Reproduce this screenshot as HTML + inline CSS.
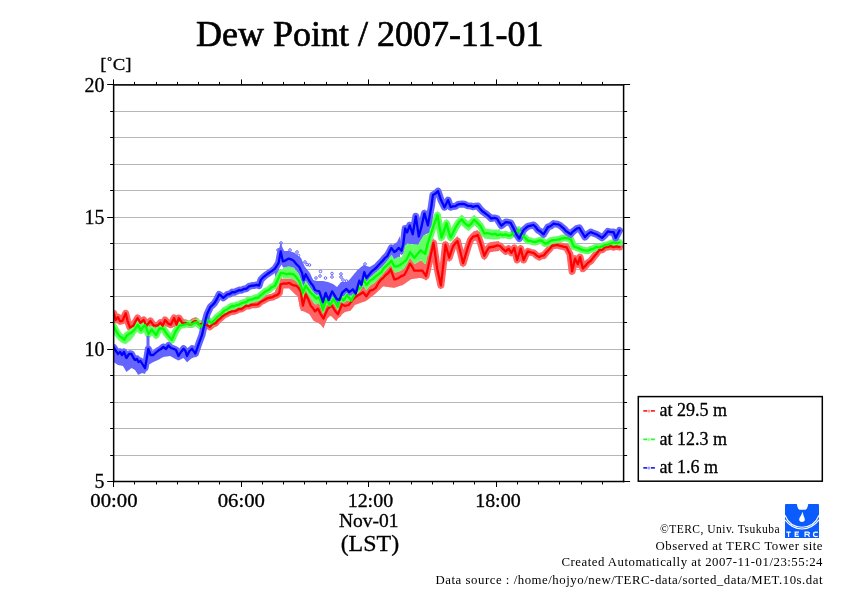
<!DOCTYPE html><html><head><meta charset="utf-8"><style>html,body{margin:0;padding:0;background:#fff;}svg{display:block;}text{font-family:"Liberation Serif",serif;fill:#000;}svg{will-change:transform;}</style></head><body>
<svg width="842" height="595" viewBox="0 0 842 595">
<rect width="842" height="595" fill="#fff"/>
<text x="196" y="46" font-size="36" textLength="347.5" lengthAdjust="spacingAndGlyphs" stroke="#000" stroke-width="0.65">Dew Point / 2007-11-01</text>
<path d="M113.7 111.50H623.6 M113.7 137.50H623.6 M113.7 164.50H623.6 M113.7 190.50H623.6 M113.7 217.50H623.6 M113.7 243.50H623.6 M113.7 269.50H623.6 M113.7 296.50H623.6 M113.7 322.50H623.6 M113.7 349.50H623.6 M113.7 375.50H623.6 M113.7 402.50H623.6 M113.7 428.50H623.6 M113.7 455.50H623.6" stroke="#b6b6b6" stroke-width="1" fill="none"/>
<clipPath id="pc"><rect x="113.4" y="84" width="510.4" height="397.5"/></clipPath>
<g clip-path="url(#pc)">
<polyline points="113.8,313.3 115.7,320.0 118.1,317.1 120.0,321.4 122.4,320.9 125.7,313.3 127.6,320.9 130.0,327.6 133.3,325.7 135.4,321.7 137.6,318.0 140.4,322.8 143.7,320.0 146.6,325.7 150.4,320.9 153.7,325.7 157.5,325.7 160.4,322.8 162.7,325.7 165.1,320.0 168.4,323.8 170.8,324.7 174.1,318.0 176.5,324.7 178.9,318.0 182.2,322.8 185.1,322.8 188.0,324.0 190.9,324.4 193.2,321.8 195.6,320.9 199.1,324.4 201.4,324.0 203.8,324.4 206.8,325.0 209.7,326.8 212.6,324.3 215.6,323.2 217.9,320.3 220.3,318.3 222.6,316.2 225.0,314.6 227.3,313.5 229.7,312.1 232.1,311.4 234.4,311.2 236.8,310.3 239.1,308.8 241.5,309.0 243.8,307.4 246.2,305.7 248.5,306.1 250.9,305.0 253.2,304.7 255.6,304.7 257.9,304.4 260.9,301.7 263.8,300.3 266.9,298.4 270.0,297.5 272.5,297.1 275.0,295.7 277.1,295.1 279.3,292.9 280.7,284.3 283.6,283.5 286.4,283.7 289.3,282.9 291.7,284.5 294.0,285.5 296.4,285.7 298.5,287.8 300.7,291.4 302.9,305.7 305.7,294.3 308.2,299.2 310.7,305.7 312.9,308.0 315.0,311.4 317.9,308.6 320.8,314.3 323.6,318.6 325.8,312.9 327.9,308.6 330.0,307.0 332.1,305.7 335.0,310.8 337.9,314.3 340.0,309.4 342.1,304.3 345.0,306.0 348.6,305.0 350.8,302.5 352.9,299.3 355.8,296.8 358.6,295.0 360.8,293.9 362.9,292.1 366.4,296.4 370.0,290.7 372.9,289.9 375.7,287.9 378.5,282.7 381.4,279.3 383.5,277.6 385.7,275.0 388.2,273.0 390.7,269.3 394.3,279.3 396.5,279.0 398.6,277.9 401.5,276.1 404.3,275.0 407.1,269.8 410.0,263.6 412.1,266.4 414.3,270.7 417.1,270.6 420.0,270.7 422.4,270.6 426.1,276.1 429.8,259.5 433.5,242.8 437.2,268.7 440.9,285.4 443.2,265.8 445.5,244.7 449.2,257.6 452.9,246.5 455.2,243.4 457.5,241.0 460.3,251.7 463.1,263.2 465.6,254.8 468.0,246.9 470.5,240.0 473.2,236.5 475.5,236.1 477.8,235.0 481.1,244.9 484.3,255.8 486.6,251.2 488.9,247.5 491.7,247.0 494.5,246.5 497.2,245.4 500.0,246.0 502.9,248.8 505.7,251.4 508.6,248.6 511.4,252.9 514.3,247.9 517.1,260.0 520.7,248.6 523.6,260.0 525.8,255.1 527.9,251.4 530.8,252.3 533.6,252.9 536.5,255.4 539.3,257.1 541.5,255.7 543.6,255.7 545.8,253.0 547.9,250.7 550.0,248.5 552.1,245.7 554.5,245.5 556.9,244.9 559.3,245.7 561.7,246.2 564.0,246.9 566.4,247.1 570.0,254.3 572.1,271.4 575.0,258.6 577.9,264.3 580.0,257.1 582.9,268.6 585.4,265.8 587.9,262.9 590.8,260.8 593.6,257.1 596.5,253.7 599.3,250.0 602.2,249.8 605.0,247.4 607.9,247.1 610.7,246.2 613.6,247.2 616.4,246.4 619.5,247.0" fill="none" stroke="#ff6464" stroke-width="7" stroke-linejoin="round" stroke-linecap="round"/>
<polyline points="113.8,326.6 116.7,332.3 119.5,336.1 122.4,338.0 124.3,339.9 127.1,335.2 129.5,333.6 131.9,332.3 134.7,329.5 138.0,324.7 140.9,330.4 143.1,326.9 145.2,325.2 148.5,334.2 151.8,329.5 153.9,332.4 156.1,335.2 159.4,328.5 163.2,328.5 167.0,334.2 169.4,336.9 171.8,339.9 175.6,331.4 179.4,325.7 181.8,325.1 184.1,324.7 186.9,323.9 189.8,323.8 192.1,324.4 194.4,322.7 196.8,322.1 199.2,324.7 201.5,326.8 203.8,322.9 206.2,319.7 208.8,321.0 211.5,323.2 214.2,320.5 216.8,317.4 219.7,315.1 222.6,312.6 225.0,310.2 227.3,309.2 229.7,307.4 232.1,306.0 234.4,306.3 236.8,305.0 239.1,304.8 241.5,303.3 243.8,302.5 246.2,302.2 248.5,299.9 250.9,299.7 253.2,299.1 255.6,297.7 257.9,297.9 260.2,295.7 262.6,293.8 265.6,291.2 268.6,290.0 271.8,287.2 275.0,285.7 277.9,279.5 280.7,272.9 283.5,273.1 286.4,274.3 288.8,273.6 291.2,273.8 293.6,274.3 296.5,277.6 299.3,281.4 302.9,292.9 305.7,285.7 308.2,289.2 310.7,292.9 313.5,295.2 316.4,298.6 319.3,297.0 322.9,310.0 326.4,298.6 330.0,305.7 333.6,298.6 335.8,303.1 337.9,307.0 340.0,296.4 343.6,300.7 347.1,295.0 349.2,297.8 351.4,300.7 353.5,296.4 355.7,292.1 357.9,289.8 360.0,287.9 363.6,279.3 366.4,285.0 370.0,280.7 372.9,279.1 375.7,276.4 378.5,274.4 381.4,272.1 383.5,268.6 385.7,266.4 388.5,263.9 391.4,260.7 394.3,266.4 397.1,266.5 400.0,265.0 402.9,262.9 405.7,260.7 407.9,257.1 410.0,252.1 412.1,254.7 414.3,257.9 417.9,253.6 420.5,250.2 422.9,252.2 425.2,253.9 427.4,244.5 429.9,236.8 432.4,229.4 434.9,222.2 437.5,215.3 439.5,226.9 441.5,237.5 444.1,230.5 446.6,223.3 448.6,231.2 450.6,237.5 453.1,232.5 455.6,227.4 458.6,222.6 461.7,219.3 464.7,223.3 466.6,224.5 468.6,226.2 471.4,223.6 474.2,219.7 477.4,222.8 480.6,226.2 484.3,233.6 487.1,233.0 489.8,233.7 492.6,234.5 495.1,233.7 497.5,235.3 500.0,234.3 502.9,235.1 505.7,234.3 507.9,235.5 510.0,235.7 512.0,234.5 514.0,232.9 516.3,231.9 518.6,230.0 522.1,235.7 525.0,237.6 527.9,240.7 530.3,240.8 532.6,241.7 535.0,242.1 537.4,241.4 539.7,240.3 542.1,240.7 545.0,243.6 547.9,243.0 550.7,240.7 553.6,240.1 556.4,239.8 559.3,239.3 562.1,238.3 565.0,237.9 567.9,238.2 570.7,239.3 573.6,246.4 576.5,247.3 579.3,248.6 582.2,249.9 585.0,250.4 587.9,250.7 590.8,249.4 593.6,248.6 596.4,247.0 599.3,247.7 602.1,246.4 605.0,245.1 607.8,244.7 610.7,243.6 613.6,242.4 616.6,243.2 619.5,242.5" fill="none" stroke="#64ff64" stroke-width="7" stroke-linejoin="round" stroke-linecap="round"/>
<polyline points="113.7,347.5 116.0,351.0 118.0,354.0 120.0,352.0 122.0,355.0 124.0,352.0 126.4,358.0 129.0,354.0 131.5,354.0 133.5,358.0 135.0,360.0 137.0,359.0 138.5,362.0 140.5,361.0 142.4,364.0 145.0,368.0 146.5,360.0 148.3,349.0 150.5,355.0 153.3,355.0 155.5,353.0 158.4,350.5 161.0,349.0 163.4,347.0 166.0,349.0 168.5,345.5 171.0,348.0 173.5,348.8 176.0,350.0 178.5,356.0 181.0,352.0 183.6,348.8 185.5,351.0 187.0,356.0 189.5,351.0 192.0,348.8 195.4,353.5 198.7,343.8 202.0,335.0 205.0,322.0 207.1,314.0 210.5,306.8 212.4,305.1 214.4,303.2 216.8,299.2 219.1,294.4 221.1,295.8 223.2,297.9 225.3,296.2 227.4,294.4 229.8,294.0 232.1,292.1 234.4,292.4 236.8,291.2 239.2,290.1 241.5,290.3 243.8,289.0 246.2,288.8 249.1,286.4 252.1,285.6 254.4,285.5 256.8,284.8 259.1,285.6 260.9,279.7 263.8,276.8 267.0,274.3 269.2,272.8 271.4,271.4 275.0,268.6 278.6,262.9 280.7,251.4 282.9,261.4 285.8,260.3 288.6,258.6 291.1,259.3 293.6,260.7 296.5,264.2 299.3,267.0 302.1,272.9 303.6,280.0 305.7,274.3 308.2,278.8 310.7,282.9 312.9,285.6 315.0,290.0 317.1,290.8 319.3,291.4 322.9,302.0 325.7,292.9 328.6,300.0 332.1,291.4 334.2,294.6 336.4,298.6 339.3,300.0 342.1,292.9 344.2,290.8 346.4,289.0 349.3,292.1 352.9,289.3 355.7,293.6 359.3,280.7 361.4,285.0 364.3,272.1 366.4,277.9 370.0,273.6 372.1,271.1 374.3,269.3 376.5,267.5 378.6,265.0 380.8,262.7 382.9,260.7 385.0,257.9 387.1,256.4 389.2,252.2 391.4,247.9 394.3,252.1 396.5,250.5 398.6,247.9 401.5,250.7 403.2,244.5 405.2,228.4 407.2,232.4 409.7,225.4 412.7,234.4 415.8,216.3 418.8,236.5 421.3,227.4 424.4,213.3 427.9,225.4 431.4,206.2 432.9,195.1 435.5,193.6 438.0,191.1 441.0,200.1 444.5,207.2 448.1,200.1 450.6,207.2 453.1,206.4 455.6,206.2 457.6,204.7 459.7,204.2 462.2,204.0 464.7,204.2 467.6,205.8 470.5,205.9 472.9,206.8 475.4,206.2 477.8,205.9 480.3,209.1 482.7,211.5 485.2,213.3 488.3,215.7 491.4,218.6 494.2,217.9 497.0,218.6 499.2,222.4 501.4,225.7 503.5,224.0 505.7,222.1 508.2,222.3 510.7,222.9 513.6,228.6 516.4,234.3 519.3,238.6 521.5,233.8 523.6,230.0 525.8,228.0 527.9,226.4 530.8,225.6 533.6,225.0 535.8,227.1 537.9,230.0 540.8,231.8 543.6,234.3 545.8,230.6 547.9,227.1 550.8,226.0 553.6,223.6 555.8,224.1 557.9,224.3 560.0,225.3 562.1,227.1 564.2,228.9 566.4,231.4 568.5,232.8 570.7,234.3 572.9,231.6 575.0,230.0 577.1,228.4 579.3,227.9 582.1,232.5 585.0,237.1 587.9,233.9 590.7,232.1 593.5,233.2 596.4,234.3 599.2,235.9 602.1,237.9 605.0,235.0 607.9,231.4 610.8,232.2 613.6,232.1 615.7,237.9 619.5,230.5" fill="none" stroke="#6464ff" stroke-width="7" stroke-linejoin="round" stroke-linecap="round"/>
<polygon points="275.0,290.7 275.5,290.0 276.0,289.3 276.5,288.5 277.0,287.8 277.5,287.1 278.0,286.4 278.5,285.6 279.0,284.9 279.5,283.6 280.0,281.5 280.5,279.4 281.0,278.6 281.5,278.6 282.0,278.7 282.5,278.7 283.0,278.7 283.5,278.7 284.0,278.7 284.5,278.8 285.0,278.8 285.5,278.8 286.0,278.8 286.5,278.8 287.0,278.8 287.5,278.7 288.0,278.7 288.5,278.7 289.0,278.6 289.5,278.6 290.0,278.7 290.5,278.8 291.0,278.9 291.5,279.0 292.0,279.1 292.5,279.2 293.0,279.3 293.5,279.4 294.0,279.8 294.5,280.2 295.0,280.6 295.5,281.0 296.0,281.4 296.5,281.9 297.0,282.5 297.5,283.2 298.0,283.8 298.5,284.4 299.0,285.1 299.5,285.9 300.0,287.0 300.5,287.6 301.0,289.9 301.5,292.5 302.0,294.9 302.5,297.4 303.0,299.0 303.5,297.3 304.0,295.6 304.5,294.0 305.0,292.3 305.5,290.7 306.0,290.6 306.5,291.5 307.0,292.4 307.5,293.3 308.0,294.3 308.5,295.2 309.0,296.1 309.5,297.1 310.0,298.0 310.5,298.9 311.0,299.6 311.5,300.2 312.0,300.8 312.5,301.4 313.0,302.0 313.5,302.6 314.0,303.1 314.5,303.7 315.0,304.3 315.5,304.3 316.0,304.3 316.5,304.2 317.0,303.9 317.5,303.5 318.0,303.2 318.5,303.5 319.0,303.8 319.5,304.6 320.0,305.9 320.5,307.2 321.0,308.6 321.5,309.9 322.0,311.3 322.5,312.6 323.0,313.6 323.5,313.2 324.0,312.0 324.5,310.6 325.0,309.3 325.5,307.9 326.0,306.5 326.5,305.3 327.0,305.2 327.5,305.1 328.0,305.0 328.5,304.7 329.0,304.3 329.5,304.0 330.0,303.6 330.5,303.3 331.0,303.0 331.5,302.6 332.0,302.3 332.5,302.8 333.0,303.4 333.5,303.3 334.0,303.9 334.5,304.8 335.0,305.7 335.5,306.5 336.0,307.4 336.5,308.2 337.0,309.1 337.5,310.0 338.0,310.3 338.5,308.4 339.0,306.6 339.5,304.7 340.0,302.9 340.5,302.6 341.0,302.3 341.5,302.0 342.0,301.0 342.5,301.0 343.0,301.3 343.5,301.6 344.0,301.9 344.5,302.2 345.0,302.2 345.5,301.7 346.0,301.3 346.5,300.8 347.0,300.3 347.5,300.4 348.0,300.7 348.5,300.9 349.0,301.0 349.5,300.3 350.0,299.6 350.5,299.0 351.0,298.3 351.5,297.7 352.0,297.0 352.5,296.3 353.0,295.7 353.5,295.3 354.0,295.0 354.5,294.6 355.0,294.2 355.5,293.8 356.0,293.5 356.5,293.1 357.0,292.7 357.5,292.3 358.0,292.0 358.5,291.6 359.0,291.2 359.5,290.9 360.0,290.6 360.5,290.2 361.0,289.4 361.5,288.7 362.0,287.9 362.5,287.1 363.0,286.5 363.5,286.2 364.0,286.8 364.5,287.6 365.0,288.4 365.5,289.2 366.0,290.0 366.5,290.6 367.0,289.9 367.5,289.2 368.0,288.5 368.5,287.8 369.0,287.1 369.5,286.4 370.0,285.7 370.5,285.4 371.0,285.1 371.5,284.8 372.0,284.5 372.5,284.1 373.0,283.8 373.5,283.5 374.0,283.2 374.5,282.9 375.0,282.6 375.5,282.3 376.0,281.8 376.5,281.2 377.0,280.7 377.5,280.1 378.0,279.5 378.5,279.0 379.0,278.4 379.5,277.8 380.0,277.3 380.5,276.7 381.0,276.2 381.5,275.6 382.0,275.0 382.5,274.4 383.0,273.8 383.5,273.3 384.0,272.7 384.5,272.1 385.0,271.5 385.5,270.9 386.0,270.4 386.5,269.8 387.0,269.3 387.5,268.8 388.0,268.2 388.5,267.7 389.0,267.2 389.5,266.6 390.0,266.1 390.5,265.6 391.0,265.6 391.5,266.2 392.0,267.4 392.5,268.6 393.0,269.8 393.5,271.0 394.0,272.1 394.5,272.8 395.0,272.7 395.5,272.5 396.0,272.4 396.5,272.2 397.0,272.1 397.5,271.9 398.0,271.8 398.5,271.7 399.0,271.5 399.5,271.3 400.0,271.1 400.5,270.8 401.0,270.5 401.5,270.1 402.0,269.8 402.5,269.5 403.0,269.2 403.5,268.9 404.0,268.6 404.5,268.1 405.0,267.4 405.5,266.7 406.0,265.9 406.5,264.9 407.0,263.9 407.5,262.9 408.0,261.9 408.5,260.9 409.0,259.9 409.5,258.9 410.0,257.9 410.5,258.6 411.0,259.4 411.5,260.1 412.0,260.9 412.5,261.6 413.0,262.3 413.5,263.1 414.0,263.9 414.5,264.2 415.0,263.9 415.5,263.6 416.0,263.3 416.5,263.0 417.0,262.7 417.5,262.4 418.0,262.1 418.5,261.8 419.0,261.4 419.5,261.1 420.0,260.8 420.5,260.4 421.0,260.6 421.5,260.8 422.0,261.0 422.5,261.3 423.0,261.8 423.5,262.4 424.0,263.0 424.5,263.5 425.0,264.1 425.5,263.9 426.0,263.2 426.5,261.3 427.0,259.1 427.0,280.0 426.5,279.9 426.0,279.7 425.5,279.6 425.0,279.4 424.5,279.2 424.0,279.1 423.5,278.9 423.0,278.8 422.5,278.6 422.0,278.5 421.5,278.3 421.0,278.2 420.5,278.0 420.0,277.9 419.5,278.0 419.0,278.1 418.5,278.1 418.0,278.2 417.5,278.3 417.0,278.4 416.5,278.4 416.0,278.5 415.5,278.6 415.0,278.7 414.5,278.8 414.0,278.8 413.5,278.9 413.0,279.0 412.5,279.1 412.0,279.1 411.5,279.2 411.0,279.3 410.5,279.7 410.0,280.0 409.5,280.4 409.0,280.7 408.5,281.1 408.0,281.4 407.5,281.8 407.0,282.1 406.5,282.5 406.0,282.9 405.5,283.2 405.0,283.6 404.5,283.9 404.0,284.3 403.5,284.6 403.0,285.0 402.5,285.2 402.0,285.3 401.5,285.5 401.0,285.6 400.5,285.8 400.0,286.0 399.5,286.1 399.0,286.3 398.5,286.4 398.0,286.6 397.5,286.8 397.0,286.9 396.5,287.1 396.0,287.3 395.5,287.4 395.0,287.6 394.5,287.7 394.0,287.9 393.5,287.8 393.0,287.8 392.5,287.7 392.0,287.6 391.5,287.6 391.0,287.5 390.5,287.4 390.0,287.4 389.5,287.3 389.0,287.2 388.5,287.1 388.0,287.1 387.5,287.0 387.0,286.9 386.5,286.9 386.0,286.8 385.5,286.7 385.0,286.7 384.5,286.6 384.0,286.5 383.5,286.5 383.0,286.4 382.5,286.9 382.0,287.4 381.5,287.9 381.0,288.4 380.5,288.9 380.0,289.4 379.5,289.9 379.0,290.3 378.5,290.8 378.0,291.3 377.5,291.8 377.0,292.3 376.5,292.8 376.0,293.3 375.5,293.8 375.0,294.1 374.5,294.5 374.0,294.9 373.5,295.3 373.0,295.7 372.5,296.0 372.0,296.4 371.5,296.8 371.0,297.2 370.5,297.6 370.0,297.9 369.5,298.3 369.0,298.7 368.5,299.1 368.0,299.5 367.5,299.9 367.0,300.2 366.5,300.6 366.0,301.0 365.5,301.2 365.0,301.4 364.5,301.5 364.0,301.7 363.5,301.9 363.0,302.1 362.5,302.3 362.0,302.4 361.5,302.6 361.0,302.8 360.5,303.0 360.0,303.2 359.5,303.3 359.0,303.5 358.5,303.7 358.0,303.9 357.5,304.1 357.0,304.2 356.5,304.4 356.0,304.6 355.5,304.8 355.0,305.0 354.5,305.5 354.0,306.2 353.5,306.9 353.0,307.5 352.5,308.2 352.0,308.8 351.5,309.5 351.0,310.2 350.5,310.7 350.0,310.8 349.5,311.0 349.0,311.1 348.5,311.2 348.0,311.3 347.5,311.5 347.0,311.6 346.5,311.7 346.0,311.8 345.5,312.0 345.0,312.1 344.5,312.4 344.0,312.8 343.5,313.2 343.0,313.5 342.5,313.9 342.0,314.3 341.5,314.7 341.0,315.0 340.5,315.4 340.0,315.8 339.5,316.2 339.0,316.7 338.5,317.6 338.0,318.5 337.5,319.3 337.0,320.2 336.5,321.1 336.0,321.1 335.5,320.6 335.0,320.1 334.5,319.6 334.0,319.1 333.5,318.6 333.0,318.1 332.5,317.6 332.0,317.1 331.5,316.6 331.0,316.1 330.5,315.8 330.0,316.2 329.5,316.6 329.0,317.0 328.5,317.4 328.0,317.8 327.5,318.2 327.0,318.8 326.5,320.2 326.0,321.6 325.5,322.9 325.0,324.3 324.5,325.7 324.0,327.1 323.5,328.5 323.0,327.8 322.5,327.1 322.0,326.4 321.5,325.7 321.0,325.0 320.5,324.7 320.0,324.3 319.5,324.0 319.0,323.6 318.5,323.3 318.0,322.9 317.5,322.7 317.0,322.4 316.5,322.2 316.0,321.9 315.5,321.7 315.0,321.4 314.5,321.2 314.0,320.9 313.5,320.7 313.0,319.9 312.5,319.2 312.0,318.4 311.5,317.6 311.0,316.8 310.5,316.1 310.0,315.3 309.5,314.5 309.0,314.1 308.5,313.8 308.0,313.6 307.5,313.3 307.0,313.1 306.5,312.8 306.0,312.6 305.5,312.3 305.0,312.1 304.5,311.8 304.0,311.6 303.5,311.4 303.0,311.3 302.5,311.1 302.0,311.0 301.5,310.9 301.0,310.8 300.5,309.7 300.0,307.3 299.5,304.8 299.0,302.4 298.5,299.9 298.0,297.5 297.5,296.6 297.0,296.1 296.5,295.6 296.0,295.1 295.5,294.7 295.0,294.2 294.5,293.7 294.0,293.2 293.5,292.7 293.0,292.2 292.5,291.7 292.0,291.2 291.5,290.7 291.0,290.3 290.5,289.8 290.0,289.3 289.5,288.8 289.0,288.6 288.5,288.6 288.0,288.6 287.5,288.6 287.0,288.6 286.5,288.6 286.0,288.6 285.5,288.6 285.0,288.6 284.5,288.6 284.0,288.6 283.5,288.6 283.0,288.6 282.5,288.6 282.0,288.6 281.5,288.6 281.0,288.6 280.5,289.0 280.0,292.1 279.5,295.2 279.0,296.6 278.5,296.9 278.0,297.2 277.5,297.6 277.0,297.9 276.5,298.2 276.0,298.5 275.5,298.9 275.0,299.2" fill="#ff6464"/>
<polygon points="420.0,265.7 420.5,265.7 421.0,265.7 421.5,265.6 422.0,265.6 422.5,265.7 423.0,266.5 423.5,267.2 424.0,268.0 424.5,268.7 425.0,269.5 425.5,270.2 426.0,271.0 426.5,269.3 427.0,267.1 427.5,264.8 428.0,262.6 428.5,260.3 429.0,258.1 429.5,255.8 430.0,253.6 430.5,251.3 431.0,249.1 431.5,246.8 432.0,244.6 432.5,242.3 433.0,240.1 433.5,237.8 434.0,241.3 434.5,244.8 435.0,248.3 435.5,251.8 436.0,255.3 436.5,258.8 437.0,262.3 437.5,265.1 438.0,267.3 438.5,269.6 439.0,271.8 439.5,274.1 440.0,276.3 440.5,278.6 441.0,279.5 441.5,275.1 442.0,270.7 442.5,266.2 443.0,261.8 443.5,257.4 444.0,253.0 444.5,248.5 445.0,244.1 445.5,239.7 446.0,241.4 446.5,243.2 447.0,244.9 447.5,246.7 448.0,248.4 448.5,250.2 449.0,251.9 449.5,251.7 450.0,250.2 450.5,248.7 451.0,247.2 451.5,245.7 452.0,244.2 452.5,242.7 453.0,241.4 453.5,240.8 454.0,240.2 454.5,239.6 455.0,239.0 455.5,238.4 456.0,237.8 456.5,237.2 457.0,236.6 457.5,236.0 458.0,238.0 458.5,240.0 459.0,241.9 459.5,243.9 460.0,245.9 460.5,247.9 461.0,249.9 461.5,251.9 462.0,253.8 462.5,255.8 463.0,257.8 463.5,256.9 464.0,255.4 464.5,253.8 465.0,252.2 465.5,250.7 466.0,249.1 466.5,247.5 467.0,246.0 467.5,244.4 468.0,242.8 468.5,241.3 469.0,239.7 469.5,238.1 470.0,236.6 470.5,235.0 471.0,234.4 471.5,233.7 472.0,233.1 472.5,232.4 473.0,231.8 473.5,231.4 474.0,231.2 474.5,231.1 475.0,230.9 475.5,230.8 476.0,230.6 476.5,230.4 477.0,230.3 477.5,230.1 478.0,230.6 478.5,232.2 479.0,233.8 479.5,235.4 480.0,237.0 480.5,238.6 481.0,240.2 481.5,241.8 482.0,243.4 482.5,245.0 483.0,246.6 483.5,248.2 484.0,249.8 484.5,250.4 485.0,249.5 485.5,248.6 486.0,247.7 486.5,246.8 487.0,245.9 487.5,245.0 488.0,244.1 488.5,243.2 489.0,242.5 489.5,242.4 490.0,242.3 490.5,242.2 491.0,242.1 491.5,242.0 492.0,241.9 492.5,241.9 493.0,241.8 493.5,241.7 494.0,241.6 494.5,241.5 495.0,241.5 495.5,241.4 496.0,241.4 496.5,241.3 497.0,241.3 497.5,241.2 498.0,241.2 498.5,241.1 499.0,241.1 499.0,251.1 498.5,251.1 498.0,251.2 497.5,251.2 497.0,251.3 496.5,251.3 496.0,251.4 495.5,251.4 495.0,251.5 494.5,251.5 494.0,251.6 493.5,251.7 493.0,251.8 492.5,251.9 492.0,251.9 491.5,252.0 491.0,252.1 490.5,252.2 490.0,252.3 489.5,252.4 489.0,252.5 488.5,253.2 488.0,254.1 487.5,255.0 487.0,255.9 486.5,256.8 486.0,257.7 485.5,258.6 485.0,259.5 484.5,260.4 484.0,259.8 483.5,258.2 483.0,256.6 482.5,255.0 482.0,253.4 481.5,251.8 481.0,250.2 480.5,248.6 480.0,247.0 479.5,245.4 479.0,243.8 478.5,242.2 478.0,240.6 477.5,240.1 477.0,240.3 476.5,240.4 476.0,240.6 475.5,240.8 475.0,240.9 474.5,241.1 474.0,241.2 473.5,241.4 473.0,241.8 472.5,242.4 472.0,243.1 471.5,243.7 471.0,244.4 470.5,245.0 470.0,246.6 469.5,248.1 469.0,249.7 468.5,251.3 468.0,252.8 467.5,254.4 467.0,256.0 466.5,257.5 466.0,259.1 465.5,260.7 465.0,262.2 464.5,263.8 464.0,265.4 463.5,266.9 463.0,267.8 462.5,265.8 462.0,263.8 461.5,261.9 461.0,259.9 460.5,257.9 460.0,255.9 459.5,253.9 459.0,251.9 458.5,250.0 458.0,248.0 457.5,246.0 457.0,246.6 456.5,247.2 456.0,247.8 455.5,248.4 455.0,249.0 454.5,249.6 454.0,250.2 453.5,250.8 453.0,251.4 452.5,252.7 452.0,254.2 451.5,255.7 451.0,257.2 450.5,258.7 450.0,260.2 449.5,261.7 449.0,261.9 448.5,260.2 448.0,258.4 447.5,256.7 447.0,254.9 446.5,253.2 446.0,251.4 445.5,249.7 445.0,254.1 444.5,258.5 444.0,263.0 443.5,267.4 443.0,271.8 442.5,276.2 442.0,280.7 441.5,285.1 441.0,289.5 440.5,288.6 440.0,286.3 439.5,284.1 439.0,281.8 438.5,279.6 438.0,277.3 437.5,275.1 437.0,272.3 436.5,268.8 436.0,265.3 435.5,261.8 435.0,258.3 434.5,254.8 434.0,251.3 433.5,247.8 433.0,250.1 432.5,252.3 432.0,254.6 431.5,256.8 431.0,259.1 430.5,261.3 430.0,263.6 429.5,265.8 429.0,268.1 428.5,270.3 428.0,272.6 427.5,274.8 427.0,277.1 426.5,279.3 426.0,281.0 425.5,280.2 425.0,279.5 424.5,278.7 424.0,278.0 423.5,277.2 423.0,276.5 422.5,275.7 422.0,275.6 421.5,275.6 421.0,275.7 420.5,275.7 420.0,275.7" fill="#ff6464"/>
<polygon points="118.0,330.6 118.5,331.2 119.0,331.9 119.5,332.6 120.0,332.9 120.5,333.3 121.0,333.6 121.5,333.9 122.0,334.2 122.5,334.6 123.0,335.1 123.5,335.6 124.0,336.1 124.5,336.1 125.0,335.2 125.5,334.4 126.0,333.5 126.5,332.7 127.0,331.9 127.5,331.5 128.0,331.2 128.5,330.9 129.0,330.6 129.5,330.2 130.0,329.9 130.5,329.6 131.0,329.3 131.5,329.0 132.0,328.7 132.5,328.2 133.0,327.7 133.5,327.2 134.0,326.7 134.5,326.2 135.0,325.6 135.0,335.0 134.5,335.6 134.0,336.2 133.5,336.9 133.0,337.5 132.5,338.1 132.0,338.8 131.5,339.4 131.0,340.0 130.5,340.4 130.0,340.8 129.5,341.2 129.0,341.6 128.5,342.0 128.0,342.4 127.5,342.8 127.0,343.2 126.5,343.6 126.0,344.0 125.5,343.9 125.0,343.8 124.5,343.6 124.0,343.5 123.5,343.4 123.0,343.2 122.5,343.1 122.0,343.0 121.5,342.6 121.0,342.2 120.5,341.9 120.0,341.5 119.5,341.1 119.0,340.8 118.5,340.4 118.0,340.0" fill="#64ff64"/>
<polygon points="420.0,245.9 420.5,245.2 421.0,245.6 421.5,246.0 422.0,246.4 422.5,246.8 423.0,247.2 423.5,247.6 424.0,248.0 424.5,248.3 425.0,248.7 425.5,247.6 426.0,245.5 426.5,243.3 427.0,241.2 427.5,239.2 428.0,237.7 428.5,236.2 429.0,234.7 429.5,233.2 430.0,231.6 430.5,230.1 431.0,228.6 431.5,227.1 432.0,225.6 432.5,224.1 433.0,222.7 433.5,221.4 434.0,220.0 434.5,218.6 435.0,217.2 435.5,215.8 436.0,214.4 436.5,213.1 437.0,211.7 437.5,210.3 438.0,213.1 438.5,215.9 439.0,218.6 439.5,221.4 440.0,224.2 440.5,226.9 441.0,229.7 441.5,232.5 442.0,231.1 442.5,229.7 443.0,228.3 443.5,226.9 444.0,225.5 444.5,224.1 445.0,222.8 445.5,221.4 446.0,220.0 446.5,218.6 447.0,219.7 447.5,221.5 448.0,223.3 448.5,225.0 449.0,226.8 449.5,228.6 450.0,230.4 450.5,232.1 451.0,231.7 451.5,230.7 452.0,229.7 452.5,228.7 453.0,227.7 453.5,226.6 454.0,225.6 454.5,224.6 455.0,223.6 455.5,222.6 456.0,221.9 456.5,221.2 457.0,220.5 457.5,219.9 458.0,219.2 458.5,218.5 459.0,217.9 459.5,217.2 460.0,216.6 460.5,215.9 461.0,215.2 461.5,214.6 462.0,214.7 462.5,215.4 463.0,216.0 463.5,216.7 464.0,217.4 464.5,218.0 465.0,218.5 465.5,218.9 466.0,219.3 466.5,219.6 467.0,220.0 467.5,220.4 468.0,220.8 468.5,221.1 469.0,220.7 469.5,220.2 470.0,219.6 470.5,219.0 471.0,218.4 471.5,217.8 472.0,217.3 472.5,216.7 473.0,216.1 473.5,215.5 474.0,214.9 474.5,215.0 475.0,215.5 475.5,216.0 476.0,216.5 476.5,217.0 477.0,217.5 477.5,218.1 478.0,218.6 478.5,219.1 479.0,219.6 479.5,220.1 480.0,220.6 480.5,221.1 481.0,222.0 481.5,223.0 482.0,224.0 482.5,225.0 483.0,226.0 483.5,227.0 484.0,228.0 484.5,228.6 485.0,228.7 485.5,228.7 486.0,228.8 486.5,228.8 487.0,228.9 487.5,228.9 488.0,229.0 488.5,229.1 489.0,229.1 489.5,229.2 490.0,229.2 490.5,229.3 491.0,229.3 491.5,229.4 492.0,229.4 492.5,229.5 493.0,229.5 493.5,229.5 494.0,229.5 494.5,229.4 495.0,229.4 495.5,229.4 496.0,229.4 496.5,229.4 497.0,229.4 497.5,229.4 498.0,229.4 498.5,229.3 499.0,229.3 499.5,229.3 500.0,229.3 500.0,239.3 499.5,239.3 499.0,239.3 498.5,239.3 498.0,239.4 497.5,239.4 497.0,239.4 496.5,239.4 496.0,239.4 495.5,239.4 495.0,239.4 494.5,239.4 494.0,239.5 493.5,239.5 493.0,239.5 492.5,239.5 492.0,239.4 491.5,239.4 491.0,239.3 490.5,239.3 490.0,239.2 489.5,239.2 489.0,239.1 488.5,239.1 488.0,239.0 487.5,238.9 487.0,238.9 486.5,238.8 486.0,238.8 485.5,238.7 485.0,238.7 484.5,238.6 484.0,238.0 483.5,237.0 483.0,236.0 482.5,235.0 482.0,234.0 481.5,233.0 481.0,232.0 480.5,231.1 480.0,230.6 479.5,230.1 479.0,229.6 478.5,229.1 478.0,228.6 477.5,228.1 477.0,227.5 476.5,227.0 476.0,226.5 475.5,226.0 475.0,225.5 474.5,225.0 474.0,224.9 473.5,225.5 473.0,226.1 472.5,226.7 472.0,227.3 471.5,227.8 471.0,228.4 470.5,229.0 470.0,229.6 469.5,230.2 469.0,230.7 468.5,231.1 468.0,230.8 467.5,230.4 467.0,230.0 466.5,229.6 466.0,229.3 465.5,228.9 465.0,228.5 464.5,228.0 464.0,227.4 463.5,226.7 463.0,226.0 462.5,225.4 462.0,224.7 461.5,224.6 461.0,225.2 460.5,225.9 460.0,226.6 459.5,227.2 459.0,227.9 458.5,228.5 458.0,229.2 457.5,229.9 457.0,230.5 456.5,231.2 456.0,231.9 455.5,232.6 455.0,233.6 454.5,234.6 454.0,235.6 453.5,236.6 453.0,237.7 452.5,238.7 452.0,239.7 451.5,240.7 451.0,241.7 450.5,242.1 450.0,240.4 449.5,238.6 449.0,236.8 448.5,235.0 448.0,233.3 447.5,231.5 447.0,229.7 446.5,228.6 446.0,230.0 445.5,231.4 445.0,232.8 444.5,234.1 444.0,235.5 443.5,236.9 443.0,238.3 442.5,239.7 442.0,241.1 441.5,242.5 441.0,239.7 440.5,236.9 440.0,234.2 439.5,231.4 439.0,228.6 438.5,225.9 438.0,223.1 437.5,220.3 437.0,221.7 436.5,223.1 436.0,224.4 435.5,225.8 435.0,227.2 434.5,228.6 434.0,230.0 433.5,231.4 433.0,232.7 432.5,234.1 432.0,235.6 431.5,237.1 431.0,238.6 430.5,240.1 430.0,241.6 429.5,243.2 429.0,244.7 428.5,246.2 428.0,247.7 427.5,249.2 427.0,251.2 426.5,253.3 426.0,255.5 425.5,257.6 425.0,258.7 424.5,258.3 424.0,258.0 423.5,257.6 423.0,257.2 422.5,256.8 422.0,256.4 421.5,256.0 421.0,255.6 420.5,255.2 420.0,255.9" fill="#64ff64"/>
<polygon points="283.0,267.4 283.5,267.3 284.0,267.3 284.5,267.2 285.0,267.2 285.5,267.1 286.0,267.0 286.5,267.0 287.0,266.8 287.5,266.7 288.0,266.6 288.5,266.5 289.0,266.5 289.5,266.6 290.0,266.7 290.5,266.8 291.0,267.0 291.5,267.1 292.0,267.2 292.5,267.3 293.0,267.4 293.5,267.5 294.0,268.0 294.5,268.6 295.0,269.1 295.5,269.7 296.0,270.3 296.5,270.9 297.0,271.5 297.5,272.1 298.0,272.7 298.5,273.3 299.0,273.8 299.5,274.7 300.0,276.1 300.5,277.4 301.0,278.7 301.5,280.0 302.0,281.4 302.5,283.2 303.0,284.9 303.5,285.4 304.0,284.5 304.5,283.2 305.0,281.8 305.5,280.5 306.0,280.5 306.5,281.3 307.0,282.1 307.5,282.8 308.0,283.6 308.5,284.4 309.0,285.2 309.5,286.0 310.0,286.8 310.5,287.6 311.0,288.3 311.5,289.0 312.0,289.6 312.5,290.3 313.0,290.9 313.5,291.6 314.0,292.3 314.5,292.9 315.0,293.6 315.5,293.9 316.0,294.3 316.5,294.5 317.0,294.5 317.5,294.4 318.0,294.2 318.5,293.9 319.0,293.7 319.5,294.2 320.0,296.0 320.5,297.8 321.0,299.6 321.5,301.4 322.0,303.1 322.5,304.7 323.0,305.7 323.5,304.0 324.0,302.4 324.5,300.8 325.0,299.2 325.5,297.5 326.0,296.4 326.5,295.3 327.0,296.3 327.5,297.3 328.0,298.3 328.5,299.2 329.0,300.2 329.5,301.2 330.0,301.1 330.5,300.0 331.0,298.9 331.5,297.8 332.0,296.7 332.5,296.4 333.0,296.3 333.5,295.3 334.0,295.9 334.5,296.9 335.0,297.8 335.5,298.8 336.0,299.8 336.5,300.8 337.0,301.7 337.5,302.7 338.0,302.9 338.5,300.5 339.0,297.9 339.5,295.4 340.0,292.9 340.5,293.5 341.0,294.1 341.5,294.7 342.0,295.3 342.5,295.9 343.0,296.0 343.5,296.1 344.0,295.6 344.5,295.0 345.0,294.3 345.5,293.7 346.0,293.1 346.5,292.5 347.0,291.7 347.5,292.0 348.0,292.7 348.5,293.4 349.0,294.0 349.5,294.7 350.0,295.2 350.5,295.3 351.0,295.5 351.5,295.4 352.0,294.8 352.5,294.1 353.0,293.5 353.5,293.0 354.0,292.0 354.5,291.0 355.0,290.0 355.5,289.0 356.0,288.3 356.5,287.8 357.0,287.3 357.5,286.8 358.0,286.4 358.5,285.9 359.0,285.3 359.5,284.7 360.0,284.4 360.5,283.2 361.0,282.0 361.5,280.8 362.0,279.6 362.5,278.4 363.0,277.2 363.5,276.0 364.0,276.6 364.5,276.9 365.0,278.1 365.5,279.3 366.0,280.5 366.5,281.3 367.0,280.7 367.5,280.1 368.0,279.5 368.5,278.9 369.0,278.3 369.5,277.7 370.0,277.1 370.5,276.7 371.0,276.3 371.5,275.8 372.0,275.4 372.5,275.0 373.0,274.5 373.5,274.1 374.0,273.6 374.5,273.2 375.0,272.8 375.5,272.3 376.0,271.9 376.5,271.4 377.0,271.0 377.5,270.6 378.0,270.1 378.5,269.7 379.0,269.3 379.5,268.8 380.0,268.4 380.5,267.9 381.0,267.5 381.5,267.0 382.0,266.5 382.5,265.9 383.0,265.3 383.5,264.7 384.0,264.1 384.5,263.5 385.0,262.9 385.5,262.4 386.0,261.8 386.5,261.3 387.0,260.8 387.5,260.1 388.0,259.4 388.5,258.6 389.0,257.9 389.5,257.1 390.0,256.4 390.5,255.6 391.0,254.9 391.5,254.5 392.0,255.3 392.5,256.2 393.0,257.0 393.5,257.9 394.0,258.7 394.5,259.1 395.0,258.8 395.5,258.5 396.0,258.2 396.5,257.9 397.0,257.6 397.5,257.3 398.0,257.0 398.5,256.7 399.0,256.8 399.5,256.9 400.0,257.1 400.5,257.2 401.0,257.2 401.5,257.3 402.0,256.2 402.5,255.1 403.0,254.0 403.5,252.2 404.0,250.0 404.5,247.8 405.0,245.6 405.5,244.9 406.0,245.1 406.5,245.1 407.0,245.1 407.5,244.3 408.0,243.1 408.5,241.9 409.0,240.7 409.5,239.5 410.0,239.2 410.5,240.3 411.0,241.4 411.5,242.5 412.0,243.5 412.5,244.6 413.0,244.4 413.5,243.3 414.0,242.2 414.5,240.8 415.0,239.0 415.5,237.3 416.0,236.8 416.5,238.1 417.0,239.5 417.5,240.9 418.0,242.3 418.5,243.6 419.0,244.0 419.5,242.7 420.0,241.5 420.5,240.3 421.0,239.5 421.5,238.7 422.0,237.8 422.5,236.9 423.0,235.9 423.5,235.0 424.0,234.0 424.5,233.5 425.0,234.6 425.5,234.9 426.0,234.7 426.5,234.5 427.0,234.2 427.0,259.1 426.5,261.3 426.0,263.2 425.5,263.9 425.0,264.1 424.5,263.5 424.0,263.0 423.5,262.4 423.0,261.8 422.5,261.3 422.0,261.0 421.5,260.8 421.0,260.6 420.5,260.4 420.0,260.8 419.5,261.1 419.0,261.4 418.5,261.8 418.0,262.1 417.5,262.4 417.0,262.7 416.5,263.0 416.0,263.3 415.5,263.6 415.0,263.9 414.5,264.2 414.0,263.9 413.5,263.1 413.0,262.3 412.5,261.6 412.0,260.9 411.5,260.1 411.0,259.4 410.5,258.6 410.0,257.9 409.5,258.9 409.0,259.9 408.5,260.9 408.0,261.9 407.5,262.9 407.0,263.9 406.5,264.9 406.0,265.9 405.5,266.7 405.0,267.4 404.5,268.1 404.0,268.6 403.5,268.9 403.0,269.2 402.5,269.5 402.0,269.8 401.5,270.1 401.0,270.5 400.5,270.8 400.0,271.1 399.5,271.3 399.0,271.5 398.5,271.7 398.0,271.8 397.5,271.9 397.0,272.1 396.5,272.2 396.0,272.4 395.5,272.5 395.0,272.7 394.5,272.8 394.0,272.1 393.5,271.0 393.0,269.8 392.5,268.6 392.0,267.4 391.5,266.2 391.0,265.6 390.5,265.6 390.0,266.1 389.5,266.6 389.0,267.2 388.5,267.7 388.0,268.2 387.5,268.8 387.0,269.3 386.5,269.8 386.0,270.4 385.5,270.9 385.0,271.5 384.5,272.1 384.0,272.7 383.5,273.3 383.0,273.8 382.5,274.4 382.0,275.0 381.5,275.6 381.0,276.2 380.5,276.7 380.0,277.3 379.5,277.8 379.0,278.4 378.5,279.0 378.0,279.5 377.5,280.1 377.0,280.7 376.5,281.2 376.0,281.8 375.5,282.3 375.0,282.6 374.5,282.9 374.0,283.2 373.5,283.5 373.0,283.8 372.5,284.1 372.0,284.5 371.5,284.8 371.0,285.1 370.5,285.4 370.0,285.7 369.5,286.4 369.0,287.1 368.5,287.8 368.0,288.5 367.5,289.2 367.0,289.9 366.5,290.6 366.0,290.0 365.5,289.2 365.0,288.4 364.5,287.6 364.0,286.8 363.5,286.2 363.0,286.5 362.5,287.1 362.0,287.9 361.5,288.7 361.0,289.4 360.5,290.2 360.0,291.4 359.5,291.9 359.0,292.4 358.5,292.9 358.0,293.4 357.5,293.8 357.0,294.3 356.5,294.8 356.0,295.3 355.5,296.0 355.0,297.0 354.5,298.0 354.0,299.0 353.5,300.0 353.0,301.0 352.5,302.0 352.0,303.0 351.5,304.0 351.0,303.7 350.5,303.0 350.0,302.3 349.5,301.7 349.0,301.0 348.5,300.9 348.0,300.7 347.5,300.4 347.0,300.3 346.5,300.8 346.0,301.3 345.5,301.7 345.0,302.2 344.5,302.7 344.0,303.5 343.5,304.1 343.0,303.5 342.5,302.9 342.0,302.3 341.5,302.0 341.0,302.3 340.5,302.6 340.0,302.9 339.5,304.7 339.0,306.6 338.5,308.4 338.0,310.3 337.5,310.0 337.0,309.1 336.5,308.2 336.0,307.4 335.5,306.5 335.0,305.7 334.5,304.8 334.0,303.9 333.5,303.3 333.0,303.4 332.5,304.3 332.0,305.3 331.5,306.2 331.0,307.2 330.5,308.2 330.0,309.2 329.5,308.2 329.0,307.2 328.5,306.2 328.0,305.3 327.5,305.1 327.0,305.2 326.5,305.3 326.0,306.5 325.5,307.9 325.0,309.3 324.5,310.6 324.0,312.0 323.5,313.2 323.0,313.6 322.5,312.6 322.0,311.3 321.5,309.9 321.0,308.6 320.5,307.2 320.0,305.9 319.5,304.6 319.0,303.8 318.5,303.5 318.0,303.2 317.5,303.5 317.0,303.9 316.5,304.2 316.0,304.3 315.5,304.3 315.0,304.3 314.5,303.7 314.0,303.1 313.5,302.6 313.0,302.0 312.5,301.4 312.0,300.8 311.5,300.2 311.0,299.6 310.5,298.9 310.0,298.0 309.5,297.1 309.0,296.1 308.5,295.2 308.0,294.3 307.5,293.3 307.0,292.4 306.5,291.5 306.0,290.6 305.5,290.7 305.0,292.3 304.5,294.0 304.0,295.6 303.5,297.3 303.0,299.0 302.5,297.4 302.0,294.9 301.5,292.5 301.0,290.3 300.5,288.7 300.0,287.1 299.5,285.9 299.0,285.1 298.5,284.4 298.0,283.8 297.5,283.2 297.0,282.5 296.5,281.9 296.0,281.4 295.5,281.0 295.0,280.6 294.5,280.2 294.0,279.8 293.5,279.4 293.0,279.3 292.5,279.2 292.0,279.1 291.5,279.0 291.0,278.9 290.5,278.8 290.0,278.7 289.5,278.6 289.0,278.6 288.5,278.7 288.0,278.7 287.5,278.7 287.0,278.8 286.5,278.8 286.0,278.8 285.5,278.8 285.0,278.8 284.5,278.8 284.0,278.7 283.5,278.7 283.0,278.7" fill="#64ff64"/>
<polygon points="113.5,344.0 114.0,344.5 114.5,345.2 115.0,346.0 115.5,346.7 116.0,347.5 116.5,348.2 117.0,349.0 117.5,349.8 118.0,350.5 118.5,350.0 119.0,349.5 119.5,349.0 120.0,348.5 120.5,349.2 121.0,350.0 121.5,350.8 122.0,351.5 122.5,350.8 123.0,350.0 123.5,349.2 124.0,348.5 124.5,349.8 125.0,351.0 125.5,352.2 126.0,353.5 126.5,354.3 127.0,353.6 127.5,352.8 128.0,352.0 128.5,351.3 129.0,350.5 129.5,350.5 130.0,350.5 130.5,350.5 131.0,350.5 131.5,350.5 132.0,351.5 132.5,352.5 133.0,353.5 133.5,354.5 134.0,355.2 134.5,355.8 135.0,356.5 135.5,356.2 136.0,356.0 136.5,355.8 137.0,355.5 137.5,356.5 138.0,357.5 138.5,358.5 139.0,358.2 139.5,358.0 140.0,357.8 140.5,357.5 141.0,358.3 141.5,359.1 142.0,359.9 142.5,360.7 143.0,361.4 143.5,362.2 144.0,363.0 144.5,363.7 145.0,364.5 145.5,361.8 146.0,359.2 146.5,356.5 147.0,353.4 147.5,350.4 148.0,347.3 148.5,346.0 149.0,347.4 149.5,348.8 150.0,350.1 150.5,351.5 151.0,351.5 151.5,351.5 152.0,351.5 152.5,351.5 153.0,351.5 153.5,351.3 154.0,350.9 154.5,350.4 155.0,350.0 155.5,349.5 156.0,349.1 156.5,348.6 157.0,348.2 157.5,347.8 158.0,347.3 158.5,346.9 159.0,346.7 159.5,346.4 160.0,346.1 160.5,345.8 161.0,345.5 161.5,345.1 162.0,344.7 162.5,344.2 163.0,343.8 163.5,343.6 164.0,344.0 164.5,344.3 165.0,344.7 165.5,345.1 166.0,345.5 166.5,344.8 167.0,344.1 167.5,343.4 168.0,342.7 168.5,342.0 169.0,342.5 169.5,343.0 170.0,343.5 170.5,344.0 171.0,344.5 171.5,344.7 172.0,344.8 172.5,345.0 173.0,345.1 173.5,345.3 174.0,345.5 174.5,345.8 175.0,346.0 175.5,346.3 176.0,346.5 176.5,347.7 177.0,348.9 177.5,350.1 178.0,351.3 178.5,352.5 179.0,351.7 179.5,350.9 180.0,350.1 180.5,349.3 181.0,348.5 181.5,347.9 182.0,347.3 182.5,346.7 183.0,346.0 183.5,345.4 184.0,345.8 184.5,346.3 185.0,346.9 185.5,347.5 186.0,349.2 186.5,350.8 187.0,352.5 187.5,351.5 188.0,350.5 188.5,349.5 189.0,348.5 189.5,347.5 190.0,347.1 190.5,346.6 191.0,346.2 191.5,345.7 192.0,345.3 192.5,346.0 193.0,346.7 193.5,347.4 194.0,348.1 194.5,348.8 195.0,349.4 195.5,349.7 196.0,348.2 196.5,346.8 197.0,345.3 197.5,343.8 198.0,342.4 198.5,340.9 199.0,339.5 199.0,348.0 198.5,349.2 198.0,350.5 197.5,351.8 197.0,353.0 196.5,354.2 196.0,355.5 195.5,356.8 195.0,357.1 194.5,357.3 194.0,357.4 193.5,357.6 193.0,357.7 192.5,357.9 192.0,358.0 191.5,358.4 191.0,358.9 190.5,359.3 190.0,359.7 189.5,360.1 189.0,360.6 188.5,361.0 188.0,361.4 187.5,361.9 187.0,362.3 186.5,361.7 186.0,361.0 185.5,360.4 185.0,359.8 184.5,359.1 184.0,358.5 183.5,358.1 183.0,358.3 182.5,358.6 182.0,358.8 181.5,359.1 181.0,359.3 180.5,359.6 180.0,359.8 179.5,360.1 179.0,360.3 178.5,360.6 178.0,360.3 177.5,360.1 177.0,359.8 176.5,359.5 176.0,359.2 175.5,359.0 175.0,358.7 174.5,358.4 174.0,358.2 173.5,357.9 173.0,357.6 172.5,357.4 172.0,357.1 171.5,356.8 171.0,356.5 170.5,356.3 170.0,356.0 169.5,356.1 169.0,356.2 168.5,356.2 168.0,356.3 167.5,356.4 167.0,356.5 166.5,356.5 166.0,356.6 165.5,356.7 165.0,356.8 164.5,356.8 164.0,356.9 163.5,357.0 163.0,357.2 162.5,357.5 162.0,357.8 161.5,358.1 161.0,358.3 160.5,358.6 160.0,358.9 159.5,359.2 159.0,359.4 158.5,359.7 158.0,360.0 157.5,360.2 157.0,360.4 156.5,360.6 156.0,360.9 155.5,361.1 155.0,361.3 154.5,361.5 154.0,361.7 153.5,361.9 153.0,362.2 152.5,362.5 152.0,362.8 151.5,363.1 151.0,363.4 150.5,363.7 150.0,364.0 149.5,364.3 149.0,364.6 148.5,364.9 148.0,365.8 147.5,367.2 147.0,368.5 146.5,369.9 146.0,371.3 145.5,372.6 145.0,374.0 144.5,373.8 144.0,373.7 143.5,373.5 143.0,373.3 142.5,373.2 142.0,373.0 141.5,373.3 141.0,373.5 140.5,373.8 140.0,374.1 139.5,374.3 139.0,374.6 138.5,374.8 138.0,374.7 137.5,373.9 137.0,373.1 136.5,372.3 136.0,371.6 135.5,370.8 135.0,370.0 134.5,369.7 134.0,369.4 133.5,369.1 133.0,368.9 132.5,368.6 132.0,368.3 131.5,368.0 131.0,368.4 130.5,368.8 130.0,369.2 129.5,369.6 129.0,370.0 128.5,370.4 128.0,370.7 127.5,371.1 127.0,371.5 126.5,371.9 126.0,371.3 125.5,370.4 125.0,369.5 124.5,368.6 124.0,367.8 123.5,366.9 123.0,366.0 122.5,365.9 122.0,365.8 121.5,365.7 121.0,365.6 120.5,365.5 120.0,365.4 119.5,365.3 119.0,365.2 118.5,365.1 118.0,365.0 117.5,364.7 117.0,364.3 116.5,364.0 116.0,363.7 115.5,363.3 115.0,363.0 114.5,362.7 114.0,362.3 113.5,362.0" fill="#6464ff"/>
<path d="M148 337V352" stroke="#6464ff" stroke-width="3" stroke-linecap="round"/>
<polygon points="275.0,265.1 275.5,263.6 276.0,261.5 276.5,259.5 277.0,257.4 277.5,255.3 278.0,253.2 278.5,251.1 279.0,249.1 279.5,247.0 280.0,244.9 280.5,242.8 281.0,242.9 281.5,244.5 282.0,246.0 282.5,247.6 283.0,249.1 283.5,250.7 284.0,251.0 284.5,251.0 285.0,251.0 285.5,251.0 286.0,251.0 286.5,251.0 287.0,251.0 287.5,251.0 288.0,251.0 288.5,251.0 289.0,251.0 289.5,251.1 290.0,251.2 290.5,251.4 291.0,251.6 291.5,251.8 292.0,251.9 292.5,252.1 293.0,252.3 293.5,252.5 294.0,252.6 294.5,252.8 295.0,253.0 295.5,253.4 296.0,253.8 296.5,254.2 297.0,254.7 297.5,255.1 298.0,255.5 298.5,255.9 299.0,256.3 299.5,256.8 300.0,257.2 300.5,257.6 301.0,258.0 301.5,259.1 302.0,260.2 302.5,261.4 303.0,262.5 303.5,263.6 304.0,264.8 304.5,265.9 305.0,267.0 305.5,267.6 306.0,268.2 306.5,268.8 307.0,269.4 307.5,270.0 308.0,270.6 308.5,271.2 309.0,271.8 309.5,272.4 310.0,273.0 310.5,274.2 311.0,275.3 311.5,276.5 312.0,277.7 312.5,278.8 313.0,280.0 313.5,280.1 314.0,280.2 314.5,280.4 315.0,280.5 315.5,280.6 316.0,280.8 316.5,280.9 317.0,281.0 317.5,281.0 318.0,281.0 318.5,281.0 319.0,281.0 319.5,281.0 320.0,281.0 320.5,281.0 321.0,281.0 321.5,281.0 322.0,281.0 322.5,281.0 323.0,281.0 323.5,281.1 324.0,281.2 324.5,281.3 325.0,281.4 325.5,281.5 326.0,281.6 326.5,281.7 327.0,281.8 327.5,281.9 328.0,282.0 328.5,282.2 329.0,282.4 329.5,282.6 330.0,282.8 330.5,283.0 331.0,283.2 331.5,283.4 332.0,283.6 332.5,283.8 333.0,284.0 333.5,284.4 334.0,284.8 334.5,285.1 335.0,285.5 335.5,285.9 336.0,286.2 336.5,286.6 337.0,287.0 337.5,286.4 338.0,285.8 338.5,285.1 339.0,284.5 339.5,283.9 340.0,283.2 340.5,282.6 341.0,282.0 341.5,282.0 342.0,282.0 342.5,282.0 343.0,282.0 343.5,282.0 344.0,282.0 344.5,282.0 345.0,282.0 345.5,282.0 346.0,282.0 346.5,282.0 347.0,282.0 347.5,282.0 348.0,281.4 348.5,280.8 349.0,280.2 349.5,279.6 350.0,279.0 350.5,278.4 351.0,277.8 351.5,277.2 352.0,276.6 352.5,276.0 353.0,275.4 353.5,274.8 354.0,274.2 354.5,273.6 355.0,273.0 355.5,272.4 356.0,271.8 356.5,271.2 357.0,270.6 357.5,270.0 358.0,269.6 358.5,269.2 359.0,268.8 359.5,268.4 360.0,268.0 360.5,267.5 361.0,267.1 361.5,266.7 362.0,266.3 362.5,265.9 363.0,265.5 363.5,265.1 364.0,265.1 364.5,265.3 365.0,265.5 365.5,265.6 366.0,265.8 366.5,266.0 367.0,266.1 367.5,266.3 368.0,266.4 368.5,266.6 369.0,266.8 369.5,266.9 370.0,266.8 370.5,266.5 371.0,266.2 371.5,265.9 372.0,265.6 372.5,265.3 373.0,265.0 373.5,264.7 374.0,264.4 374.5,264.1 375.0,263.7 375.5,263.1 376.0,262.6 376.5,262.0 377.0,261.5 377.5,261.0 378.0,260.4 378.5,259.9 379.0,259.3 379.5,258.8 380.0,258.3 380.5,257.7 381.0,257.2 381.5,256.6 382.0,256.1 382.5,255.5 383.0,255.0 383.5,254.4 384.0,253.9 384.5,253.3 385.0,252.7 385.5,252.1 386.0,251.6 386.5,251.0 387.0,250.4 387.5,249.9 388.0,249.3 388.5,248.7 389.0,248.1 389.5,247.6 390.0,247.0 390.5,246.2 391.0,245.2 391.5,244.5 392.0,245.3 392.5,245.2 393.0,244.9 393.5,244.5 394.0,244.1 394.5,243.8 395.0,243.4 395.5,243.1 396.0,242.7 396.5,242.4 397.0,242.0 397.5,241.0 398.0,240.0 398.5,239.0 399.0,238.0 399.5,237.0 400.0,236.0 400.0,257.1 399.5,256.9 399.0,256.8 398.5,256.7 398.0,257.0 397.5,257.3 397.0,257.6 396.5,257.9 396.0,258.2 395.5,258.5 395.0,258.8 394.5,259.1 394.0,258.7 393.5,257.9 393.0,257.0 392.5,256.2 392.0,255.3 391.5,254.5 391.0,254.9 390.5,255.6 390.0,256.4 389.5,257.1 389.0,257.9 388.5,258.6 388.0,259.4 387.5,260.1 387.0,260.8 386.5,261.3 386.0,261.8 385.5,262.4 385.0,262.9 384.5,263.5 384.0,264.1 383.5,264.7 383.0,265.3 382.5,265.9 382.0,266.5 381.5,267.0 381.0,267.5 380.5,267.9 380.0,268.4 379.5,268.8 379.0,269.3 378.5,269.7 378.0,270.1 377.5,270.6 377.0,271.0 376.5,271.4 376.0,271.9 375.5,272.3 375.0,272.8 374.5,273.2 374.0,273.6 373.5,274.1 373.0,274.5 372.5,275.0 372.0,275.4 371.5,275.8 371.0,276.3 370.5,276.7 370.0,277.1 369.5,277.7 369.0,278.3 368.5,278.9 368.0,279.5 367.5,280.1 367.0,280.7 366.5,281.3 366.0,280.5 365.5,279.3 365.0,278.1 364.5,276.9 364.0,276.9 363.5,279.2 363.0,281.4 362.5,283.6 362.0,285.8 361.5,288.1 361.0,287.7 360.5,286.7 360.0,285.6 359.5,284.7 359.0,285.3 358.5,287.1 358.0,288.9 357.5,290.6 357.0,292.4 356.5,294.2 356.0,296.0 355.5,296.8 355.0,296.0 354.5,295.3 354.0,294.5 353.5,293.7 353.0,293.5 352.5,294.1 352.0,294.8 351.5,295.4 351.0,295.5 350.5,295.3 350.0,295.2 349.5,295.4 349.0,295.3 348.5,294.7 348.0,294.2 347.5,293.7 347.0,293.1 346.5,292.6 346.0,293.1 345.5,293.7 345.0,294.3 344.5,295.0 344.0,295.6 343.5,296.1 343.0,296.0 342.5,296.0 342.0,296.7 341.5,297.9 341.0,299.2 340.5,300.5 340.0,301.7 339.5,303.0 339.0,303.4 338.5,303.1 338.0,302.9 337.5,302.7 337.0,302.4 336.5,302.1 336.0,301.4 335.5,300.6 335.0,299.8 334.5,298.9 334.0,298.1 333.5,297.2 333.0,296.4 332.5,296.4 332.0,296.7 331.5,297.8 331.0,298.9 330.5,300.0 330.0,301.1 329.5,301.3 329.0,302.5 328.5,303.3 328.0,302.0 327.5,300.8 327.0,299.6 326.5,298.4 326.0,297.1 325.5,297.5 325.0,299.2 324.5,300.8 324.0,302.4 323.5,304.0 323.0,305.7 322.5,304.7 322.0,303.1 321.5,301.4 321.0,299.9 320.5,298.4 320.0,297.0 319.5,295.5 319.0,294.8 318.5,294.6 318.0,294.5 317.5,294.4 317.0,294.5 316.5,294.5 316.0,294.3 315.5,293.9 315.0,293.6 314.5,292.9 314.0,292.3 313.5,291.6 313.0,290.9 312.5,290.3 312.0,289.6 311.5,289.0 311.0,288.3 310.5,287.6 310.0,286.8 309.5,286.0 309.0,285.2 308.5,284.4 308.0,283.6 307.5,282.8 307.0,282.1 306.5,281.3 306.0,280.5 305.5,280.5 305.0,281.8 304.5,283.2 304.0,284.5 303.5,285.4 303.0,284.9 302.5,283.2 302.0,281.4 301.5,280.0 301.0,278.7 300.5,277.4 300.0,276.1 299.5,274.7 299.0,273.8 298.5,273.3 298.0,272.7 297.5,272.1 297.0,271.5 296.5,270.9 296.0,270.3 295.5,269.7 295.0,269.1 294.5,268.6 294.0,268.0 293.5,267.5 293.0,267.4 292.5,267.3 292.0,267.2 291.5,267.1 291.0,267.0 290.5,266.8 290.0,266.7 289.5,266.6 289.0,266.5 288.5,266.5 288.0,266.6 287.5,266.7 287.0,266.8 286.5,267.0 286.0,267.0 285.5,267.1 285.0,267.2 284.5,267.2 284.0,267.3 283.5,267.3 283.0,267.4 282.5,266.5 282.0,265.3 281.5,264.1 281.0,262.9 280.5,262.9 280.0,264.9 279.5,266.8 279.0,268.7 278.5,270.4 278.0,271.4 277.5,272.4 277.0,273.3 276.5,274.3 276.0,275.2 275.5,276.2 275.0,277.1" fill="#6464ff"/>
<polygon points="401.0,245.7 401.5,246.2 402.0,244.4 402.5,242.6 403.0,240.7 403.5,237.6 404.0,233.6 404.5,229.5 405.0,225.5 405.5,224.5 406.0,225.5 406.5,226.5 407.0,227.5 407.5,227.1 408.0,225.7 408.5,224.3 409.0,222.9 409.5,221.5 410.0,221.8 410.5,223.3 411.0,224.8 411.5,226.3 412.0,227.8 412.5,229.3 413.0,228.1 413.5,225.2 414.0,222.3 414.5,219.4 415.0,216.5 415.5,213.6 416.0,213.1 416.5,216.5 417.0,219.9 417.5,223.2 418.0,226.6 418.5,230.0 419.0,231.3 419.5,229.5 420.0,227.6 420.5,225.8 421.0,224.0 421.5,222.0 422.0,219.7 422.5,217.4 423.0,215.2 423.5,212.9 424.0,210.6 424.5,209.1 425.0,210.9 425.5,212.6 426.0,214.3 426.5,216.1 427.0,217.8 427.5,219.5 428.0,220.4 428.5,217.6 429.0,214.9 429.5,212.1 430.0,209.4 430.5,206.6 431.0,203.9 431.0,218.7 430.5,223.0 430.0,227.3 429.5,231.5 429.0,232.6 428.5,232.9 428.0,233.1 427.5,233.4 427.0,233.6 426.5,233.9 426.0,234.1 425.5,234.4 425.0,234.6 424.5,234.9 424.0,235.1 423.5,235.4 423.0,236.0 422.5,236.9 422.0,237.8 421.5,238.7 421.0,239.6 420.5,240.5 420.0,241.4 419.5,242.3 419.0,243.2 418.5,244.1 418.0,244.5 417.5,244.4 417.0,244.4 416.5,244.4 416.0,244.3 415.5,244.3 415.0,244.3 414.5,244.2 414.0,244.2 413.5,244.2 413.0,244.1 412.5,244.1 412.0,244.1 411.5,244.0 411.0,244.0 410.5,243.9 410.0,243.9 409.5,243.8 409.0,243.8 408.5,243.7 408.0,243.6 407.5,243.6 407.0,243.5 406.5,243.4 406.0,243.4 405.5,243.3 405.0,243.2 404.5,243.2 404.0,243.1 403.5,246.6 403.0,249.7 402.5,251.6 402.0,253.4 401.5,255.2 401.0,254.7" fill="#6464ff"/>
<circle cx="298.5" cy="255.5" r="1.3" fill="none" stroke="#6464ff" stroke-width="1"/>
<circle cx="305.0" cy="262.0" r="1.3" fill="none" stroke="#6464ff" stroke-width="1"/>
<circle cx="307.0" cy="264.5" r="1.3" fill="none" stroke="#6464ff" stroke-width="1"/>
<circle cx="309.5" cy="265.0" r="1.3" fill="none" stroke="#6464ff" stroke-width="1"/>
<circle cx="320.5" cy="271.5" r="1.3" fill="none" stroke="#6464ff" stroke-width="1"/>
<circle cx="320.0" cy="276.0" r="1.3" fill="none" stroke="#6464ff" stroke-width="1"/>
<circle cx="316.0" cy="278.0" r="1.3" fill="none" stroke="#6464ff" stroke-width="1"/>
<circle cx="325.5" cy="278.0" r="1.3" fill="none" stroke="#6464ff" stroke-width="1"/>
<circle cx="332.0" cy="273.5" r="1.3" fill="none" stroke="#6464ff" stroke-width="1"/>
<circle cx="332.0" cy="277.0" r="1.3" fill="none" stroke="#6464ff" stroke-width="1"/>
<circle cx="341.0" cy="274.0" r="1.3" fill="none" stroke="#6464ff" stroke-width="1"/>
<circle cx="341.0" cy="277.0" r="1.3" fill="none" stroke="#6464ff" stroke-width="1"/>
<circle cx="343.0" cy="280.0" r="1.3" fill="none" stroke="#6464ff" stroke-width="1"/>
<circle cx="346.5" cy="281.0" r="1.3" fill="none" stroke="#6464ff" stroke-width="1"/>
<circle cx="365.0" cy="264.0" r="1.3" fill="none" stroke="#6464ff" stroke-width="1"/>
<circle cx="278.0" cy="250.0" r="1.3" fill="none" stroke="#6464ff" stroke-width="1"/>
<circle cx="281.0" cy="243.0" r="1.3" fill="none" stroke="#6464ff" stroke-width="1"/>
<circle cx="290.0" cy="250.0" r="1.3" fill="none" stroke="#6464ff" stroke-width="1"/>
<circle cx="297.0" cy="252.0" r="1.3" fill="none" stroke="#6464ff" stroke-width="1"/>
<polyline points="113.8,313.3 115.7,320.0 118.1,317.1 120.0,321.4 122.4,320.9 125.7,313.3 127.6,320.9 130.0,327.6 133.3,325.7 135.4,321.7 137.6,318.0 140.4,322.8 143.7,320.0 146.6,325.7 150.4,320.9 153.7,325.7 157.5,325.7 160.4,322.8 162.7,325.7 165.1,320.0 168.4,323.8 170.8,324.7 174.1,318.0 176.5,324.7 178.9,318.0 182.2,322.8 185.1,322.8 188.0,324.0 190.9,324.4 193.2,321.8 195.6,320.9 199.1,324.4 201.4,324.0 203.8,324.4 206.8,325.0 209.7,326.8 212.6,324.3 215.6,323.2 217.9,320.3 220.3,318.3 222.6,316.2 225.0,314.6 227.3,313.5 229.7,312.1 232.1,311.4 234.4,311.2 236.8,310.3 239.1,308.8 241.5,309.0 243.8,307.4 246.2,305.7 248.5,306.1 250.9,305.0 253.2,304.7 255.6,304.7 257.9,304.4 260.9,301.7 263.8,300.3 266.9,298.4 270.0,297.5 272.5,297.1 275.0,295.7 277.1,295.1 279.3,292.9 280.7,284.3 283.6,283.5 286.4,283.7 289.3,282.9 291.7,284.5 294.0,285.5 296.4,285.7 298.5,287.8 300.7,291.4 302.9,305.7 305.7,294.3 308.2,299.2 310.7,305.7 312.9,308.0 315.0,311.4 317.9,308.6 320.8,314.3 323.6,318.6 325.8,312.9 327.9,308.6 330.0,307.0 332.1,305.7 335.0,310.8 337.9,314.3 340.0,309.4 342.1,304.3 345.0,306.0 348.6,305.0 350.8,302.5 352.9,299.3 355.8,296.8 358.6,295.0 360.8,293.9 362.9,292.1 366.4,296.4 370.0,290.7 372.9,289.9 375.7,287.9 378.5,282.7 381.4,279.3 383.5,277.6 385.7,275.0 388.2,273.0 390.7,269.3 394.3,279.3 396.5,279.0 398.6,277.9 401.5,276.1 404.3,275.0 407.1,269.8 410.0,263.6 412.1,266.4 414.3,270.7 417.1,270.6 420.0,270.7 422.4,270.6 426.1,276.1 429.8,259.5 433.5,242.8 437.2,268.7 440.9,285.4 443.2,265.8 445.5,244.7 449.2,257.6 452.9,246.5 455.2,243.4 457.5,241.0 460.3,251.7 463.1,263.2 465.6,254.8 468.0,246.9 470.5,240.0 473.2,236.5 475.5,236.1 477.8,235.0 481.1,244.9 484.3,255.8 486.6,251.2 488.9,247.5 491.7,247.0 494.5,246.5 497.2,245.4 500.0,246.0 502.9,248.8 505.7,251.4 508.6,248.6 511.4,252.9 514.3,247.9 517.1,260.0 520.7,248.6 523.6,260.0 525.8,255.1 527.9,251.4 530.8,252.3 533.6,252.9 536.5,255.4 539.3,257.1 541.5,255.7 543.6,255.7 545.8,253.0 547.9,250.7 550.0,248.5 552.1,245.7 554.5,245.5 556.9,244.9 559.3,245.7 561.7,246.2 564.0,246.9 566.4,247.1 570.0,254.3 572.1,271.4 575.0,258.6 577.9,264.3 580.0,257.1 582.9,268.6 585.4,265.8 587.9,262.9 590.8,260.8 593.6,257.1 596.5,253.7 599.3,250.0 602.2,249.8 605.0,247.4 607.9,247.1 610.7,246.2 613.6,247.2 616.4,246.4 619.5,247.0" fill="none" stroke="#ff0000" stroke-width="2.3" stroke-linejoin="round" stroke-linecap="round"/>
<polyline points="113.8,326.6 116.7,332.3 119.5,336.1 122.4,338.0 124.3,339.9 127.1,335.2 129.5,333.6 131.9,332.3 134.7,329.5 138.0,324.7 140.9,330.4 143.1,326.9 145.2,325.2 148.5,334.2 151.8,329.5 153.9,332.4 156.1,335.2 159.4,328.5 163.2,328.5 167.0,334.2 169.4,336.9 171.8,339.9 175.6,331.4 179.4,325.7 181.8,325.1 184.1,324.7 186.9,323.9 189.8,323.8 192.1,324.4 194.4,322.7 196.8,322.1 199.2,324.7 201.5,326.8 203.8,322.9 206.2,319.7 208.8,321.0 211.5,323.2 214.2,320.5 216.8,317.4 219.7,315.1 222.6,312.6 225.0,310.2 227.3,309.2 229.7,307.4 232.1,306.0 234.4,306.3 236.8,305.0 239.1,304.8 241.5,303.3 243.8,302.5 246.2,302.2 248.5,299.9 250.9,299.7 253.2,299.1 255.6,297.7 257.9,297.9 260.2,295.7 262.6,293.8 265.6,291.2 268.6,290.0 271.8,287.2 275.0,285.7 277.9,279.5 280.7,272.9 283.5,273.1 286.4,274.3 288.8,273.6 291.2,273.8 293.6,274.3 296.5,277.6 299.3,281.4 302.9,292.9 305.7,285.7 308.2,289.2 310.7,292.9 313.5,295.2 316.4,298.6 319.3,297.0 322.9,310.0 326.4,298.6 330.0,305.7 333.6,298.6 335.8,303.1 337.9,307.0 340.0,296.4 343.6,300.7 347.1,295.0 349.2,297.8 351.4,300.7 353.5,296.4 355.7,292.1 357.9,289.8 360.0,287.9 363.6,279.3 366.4,285.0 370.0,280.7 372.9,279.1 375.7,276.4 378.5,274.4 381.4,272.1 383.5,268.6 385.7,266.4 388.5,263.9 391.4,260.7 394.3,266.4 397.1,266.5 400.0,265.0 402.9,262.9 405.7,260.7 407.9,257.1 410.0,252.1 412.1,254.7 414.3,257.9 417.9,253.6 420.5,250.2 422.9,252.2 425.2,253.9 427.4,244.5 429.9,236.8 432.4,229.4 434.9,222.2 437.5,215.3 439.5,226.9 441.5,237.5 444.1,230.5 446.6,223.3 448.6,231.2 450.6,237.5 453.1,232.5 455.6,227.4 458.6,222.6 461.7,219.3 464.7,223.3 466.6,224.5 468.6,226.2 471.4,223.6 474.2,219.7 477.4,222.8 480.6,226.2 484.3,233.6 487.1,233.0 489.8,233.7 492.6,234.5 495.1,233.7 497.5,235.3 500.0,234.3 502.9,235.1 505.7,234.3 507.9,235.5 510.0,235.7 512.0,234.5 514.0,232.9 516.3,231.9 518.6,230.0 522.1,235.7 525.0,237.6 527.9,240.7 530.3,240.8 532.6,241.7 535.0,242.1 537.4,241.4 539.7,240.3 542.1,240.7 545.0,243.6 547.9,243.0 550.7,240.7 553.6,240.1 556.4,239.8 559.3,239.3 562.1,238.3 565.0,237.9 567.9,238.2 570.7,239.3 573.6,246.4 576.5,247.3 579.3,248.6 582.2,249.9 585.0,250.4 587.9,250.7 590.8,249.4 593.6,248.6 596.4,247.0 599.3,247.7 602.1,246.4 605.0,245.1 607.8,244.7 610.7,243.6 613.6,242.4 616.6,243.2 619.5,242.5" fill="none" stroke="#00ff00" stroke-width="2.3" stroke-linejoin="round" stroke-linecap="round"/>
<polyline points="113.7,347.5 116.0,351.0 118.0,354.0 120.0,352.0 122.0,355.0 124.0,352.0 126.4,358.0 129.0,354.0 131.5,354.0 133.5,358.0 135.0,360.0 137.0,359.0 138.5,362.0 140.5,361.0 142.4,364.0 145.0,368.0 146.5,360.0 148.3,349.0 150.5,355.0 153.3,355.0 155.5,353.0 158.4,350.5 161.0,349.0 163.4,347.0 166.0,349.0 168.5,345.5 171.0,348.0 173.5,348.8 176.0,350.0 178.5,356.0 181.0,352.0 183.6,348.8 185.5,351.0 187.0,356.0 189.5,351.0 192.0,348.8 195.4,353.5 198.7,343.8 202.0,335.0 205.0,322.0 207.1,314.0 210.5,306.8 212.4,305.1 214.4,303.2 216.8,299.2 219.1,294.4 221.1,295.8 223.2,297.9 225.3,296.2 227.4,294.4 229.8,294.0 232.1,292.1 234.4,292.4 236.8,291.2 239.2,290.1 241.5,290.3 243.8,289.0 246.2,288.8 249.1,286.4 252.1,285.6 254.4,285.5 256.8,284.8 259.1,285.6 260.9,279.7 263.8,276.8 267.0,274.3 269.2,272.8 271.4,271.4 275.0,268.6 278.6,262.9 280.7,251.4 282.9,261.4 285.8,260.3 288.6,258.6 291.1,259.3 293.6,260.7 296.5,264.2 299.3,267.0 302.1,272.9 303.6,280.0 305.7,274.3 308.2,278.8 310.7,282.9 312.9,285.6 315.0,290.0 317.1,290.8 319.3,291.4 322.9,302.0 325.7,292.9 328.6,300.0 332.1,291.4 334.2,294.6 336.4,298.6 339.3,300.0 342.1,292.9 344.2,290.8 346.4,289.0 349.3,292.1 352.9,289.3 355.7,293.6 359.3,280.7 361.4,285.0 364.3,272.1 366.4,277.9 370.0,273.6 372.1,271.1 374.3,269.3 376.5,267.5 378.6,265.0 380.8,262.7 382.9,260.7 385.0,257.9 387.1,256.4 389.2,252.2 391.4,247.9 394.3,252.1 396.5,250.5 398.6,247.9 401.5,250.7 403.2,244.5 405.2,228.4 407.2,232.4 409.7,225.4 412.7,234.4 415.8,216.3 418.8,236.5 421.3,227.4 424.4,213.3 427.9,225.4 431.4,206.2 432.9,195.1 435.5,193.6 438.0,191.1 441.0,200.1 444.5,207.2 448.1,200.1 450.6,207.2 453.1,206.4 455.6,206.2 457.6,204.7 459.7,204.2 462.2,204.0 464.7,204.2 467.6,205.8 470.5,205.9 472.9,206.8 475.4,206.2 477.8,205.9 480.3,209.1 482.7,211.5 485.2,213.3 488.3,215.7 491.4,218.6 494.2,217.9 497.0,218.6 499.2,222.4 501.4,225.7 503.5,224.0 505.7,222.1 508.2,222.3 510.7,222.9 513.6,228.6 516.4,234.3 519.3,238.6 521.5,233.8 523.6,230.0 525.8,228.0 527.9,226.4 530.8,225.6 533.6,225.0 535.8,227.1 537.9,230.0 540.8,231.8 543.6,234.3 545.8,230.6 547.9,227.1 550.8,226.0 553.6,223.6 555.8,224.1 557.9,224.3 560.0,225.3 562.1,227.1 564.2,228.9 566.4,231.4 568.5,232.8 570.7,234.3 572.9,231.6 575.0,230.0 577.1,228.4 579.3,227.9 582.1,232.5 585.0,237.1 587.9,233.9 590.7,232.1 593.5,233.2 596.4,234.3 599.2,235.9 602.1,237.9 605.0,235.0 607.9,231.4 610.8,232.2 613.6,232.1 615.7,237.9 619.5,230.5" fill="none" stroke="#0000ff" stroke-width="2.3" stroke-linejoin="round" stroke-linecap="round"/>
</g>
<path d="M113.65 84V482.3M623.6 84V482.3" stroke="#000" stroke-width="1.5" fill="none"/>
<path d="M112.9 84.9H624.35" stroke="#151515" stroke-width="1.7" fill="none"/>
<path d="M112.9 481.55H624.35" stroke="#000" stroke-width="1.6" fill="none"/>
<path d="M107.15 481.50H113.65 M623.6 481.50H630.1 M110.15 455.50H113.65 M623.6 455.50H627.1 M110.15 428.50H113.65 M623.6 428.50H627.1 M110.15 402.50H113.65 M623.6 402.50H627.1 M110.15 375.50H113.65 M623.6 375.50H627.1 M107.15 349.50H113.65 M623.6 349.50H630.1 M110.15 322.50H113.65 M623.6 322.50H627.1 M110.15 296.50H113.65 M623.6 296.50H627.1 M110.15 269.50H113.65 M623.6 269.50H627.1 M110.15 243.50H113.65 M623.6 243.50H627.1 M107.15 217.50H113.65 M623.6 217.50H630.1 M110.15 190.50H113.65 M623.6 190.50H627.1 M110.15 164.50H113.65 M623.6 164.50H627.1 M110.15 137.50H113.65 M623.6 137.50H627.1 M110.15 111.50H113.65 M623.6 111.50H627.1 M107.15 84.50H113.65 M623.6 84.50H630.1 M113.50 79.4V84.9 M113.50 481.5V487.0 M134.50 81.9V84.9 M134.50 481.5V484.5 M156.50 81.9V84.9 M156.50 481.5V484.5 M177.50 81.9V84.9 M177.50 481.5V484.5 M198.50 81.9V84.9 M198.50 481.5V484.5 M219.50 81.9V84.9 M219.50 481.5V484.5 M241.50 79.4V84.9 M241.50 481.5V487.0 M262.50 81.9V84.9 M262.50 481.5V484.5 M283.50 81.9V84.9 M283.50 481.5V484.5 M304.50 81.9V84.9 M304.50 481.5V484.5 M326.50 81.9V84.9 M326.50 481.5V484.5 M347.50 81.9V84.9 M347.50 481.5V484.5 M368.50 79.4V84.9 M368.50 481.5V487.0 M389.50 81.9V84.9 M389.50 481.5V484.5 M411.50 81.9V84.9 M411.50 481.5V484.5 M432.50 81.9V84.9 M432.50 481.5V484.5 M453.50 81.9V84.9 M453.50 481.5V484.5 M474.50 81.9V84.9 M474.50 481.5V484.5 M496.50 79.4V84.9 M496.50 481.5V487.0 M517.50 81.9V84.9 M517.50 481.5V484.5 M538.50 81.9V84.9 M538.50 481.5V484.5 M559.50 81.9V84.9 M559.50 481.5V484.5 M581.50 81.9V84.9 M581.50 481.5V484.5 M602.50 81.9V84.9 M602.50 481.5V484.5" stroke="#000" stroke-width="1" fill="none"/>
<text x="104.6" y="91.8" font-size="20" text-anchor="end" stroke="#000" stroke-width="0.3">20</text>
<text x="104.6" y="224.0" font-size="20" text-anchor="end" stroke="#000" stroke-width="0.3">15</text>
<text x="104.6" y="356.2" font-size="20" text-anchor="end" stroke="#000" stroke-width="0.3">10</text>
<text x="104.6" y="488.4" font-size="20" text-anchor="end" stroke="#000" stroke-width="0.3">5</text>
<text x="100.2" y="70.2" font-size="17.5" textLength="31.3" lengthAdjust="spacingAndGlyphs" stroke="#000" stroke-width="0.3">[˚C]</text>
<text x="113.9" y="506.8" font-size="19" text-anchor="middle" textLength="47.3" lengthAdjust="spacingAndGlyphs" stroke="#000" stroke-width="0.3">00:00</text>
<text x="241.3" y="506.8" font-size="19" text-anchor="middle" textLength="47.3" lengthAdjust="spacingAndGlyphs" stroke="#000" stroke-width="0.3">06:00</text>
<text x="370.4" y="506.8" font-size="19" text-anchor="middle" textLength="45.5" lengthAdjust="spacingAndGlyphs" stroke="#000" stroke-width="0.3">12:00</text>
<text x="497.9" y="506.8" font-size="19" text-anchor="middle" textLength="45.5" lengthAdjust="spacingAndGlyphs" stroke="#000" stroke-width="0.3">18:00</text>
<text x="368.8" y="526.8" font-size="19" text-anchor="middle" textLength="59.5" lengthAdjust="spacingAndGlyphs" stroke="#000" stroke-width="0.3">Nov-01</text>
<text x="369.9" y="551.2" font-size="23" text-anchor="middle" textLength="58.5" lengthAdjust="spacingAndGlyphs" stroke="#000" stroke-width="0.3">(LST)</text>
<rect x="638.3" y="396.6" width="184" height="84.6" fill="#fff" stroke="#000" stroke-width="1.5"/>
<path d="M643.3 410.9H647.2M650.9 410.9H654.9" stroke="#ff0000" stroke-opacity="0.85" stroke-width="1.9"/>
<circle cx="648.9" cy="410.9" r="1.5" fill="#ff6e6e" fill-opacity="0.7"/>
<text x="659.5" y="416.0" font-size="18" stroke="#000" stroke-width="0.3">at 29.5 m</text>
<path d="M643.3 439.4H647.2M650.9 439.4H654.9" stroke="#00ff00" stroke-opacity="0.85" stroke-width="1.9"/>
<circle cx="648.9" cy="439.4" r="1.5" fill="#6eff6e" fill-opacity="0.7"/>
<text x="659.5" y="444.5" font-size="18" stroke="#000" stroke-width="0.3">at 12.3 m</text>
<path d="M643.3 467.9H647.2M650.9 467.9H654.9" stroke="#0000ff" stroke-opacity="0.85" stroke-width="1.9"/>
<circle cx="648.9" cy="467.9" r="1.5" fill="#6e6eff" fill-opacity="0.7"/>
<text x="659.5" y="473.0" font-size="18" stroke="#000" stroke-width="0.3">at 1.6 m</text>
<text x="779.5" y="532.6" font-size="11.5" text-anchor="end" textLength="119.5" lengthAdjust="spacing">©TERC, Univ. Tsukuba</text>
<text x="822.5" y="549.7" font-size="12.8" text-anchor="end" textLength="167" lengthAdjust="spacing">Observed at TERC Tower site</text>
<text x="822.5" y="566.1" font-size="12.8" text-anchor="end" textLength="261" lengthAdjust="spacing">Created Automatically at 2007-11-01/23:55:24</text>
<text x="822.5" y="583.7" font-size="12.8" text-anchor="end" textLength="387" lengthAdjust="spacing">Data source : /home/hojyo/new/TERC-data/sorted_data/MET.10s.dat</text>
<g transform="translate(785,504)">
<path d="M0 1Q0 0 1 0H11.8C12.4 4 13.5 5.75 15 5.75H20C21.5 5.75 22.6 4 23.3 0H33Q34 0 34 1V34H0Z" fill="#0a5cff"/>
<path d="M17.6 7.7Q16.5 11 14.6 13.8Q14 15 14.2 16.3Q14.6 17.9 17 17.9Q19.4 17.9 19.8 16.3Q20 15 19.4 13.8Q18.2 11 17.6 7.7Z" fill="#fff"/>
<path d="M0 11.3C3 19 9 23 17 23.3C25 23 31 19 34 11.3M0 15.8C4 21 9.5 24.8 17 25C24.5 24.8 30 21 34 15.8" fill="none" stroke="#fff" stroke-width="1.1"/>
<path d="M1.3 28.1H5.8M3.55 28.1V32.9M10.2 27.5V32.9M10.2 28.1H14M10.2 30.2H13.3M10.2 32.3H14M20.1 32.9V28.1H23Q24.4 28.1 24.4 29.25Q24.4 30.4 23 30.4H20.1M22.6 30.4L24.6 32.9M32.9 28.4Q32 28.1 30.6 28.1Q28.5 28.1 28.5 30.5Q28.5 32.6 30.6 32.6Q32 32.6 32.9 32.3" fill="none" stroke="#fff" stroke-width="1.2"/>
</g>
</svg></body></html>
